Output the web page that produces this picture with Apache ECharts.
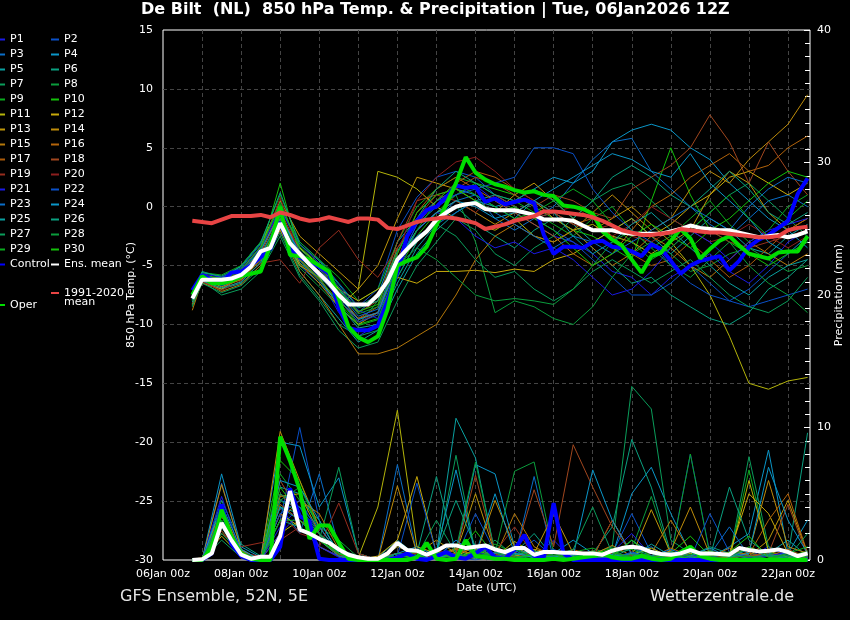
<!DOCTYPE html>
<html>
<head>
<meta charset="utf-8">
<script src="https://cdn.jsdelivr.net/npm/echarts@6/dist/echarts.min.js"></script>
<style>
  html, body { margin: 0; background: #000; }
  #chart { width: 850px; height: 620px; }
</style>
</head>
<body>
<div id="chart"></div>
<script>
// forecast steps, hours after 06Jan 00z
const hours = [18, 24, 30, 36, 42, 48, 54, 60, 66, 72, 78, 84, 90, 96, 102, 108, 114, 120, 126, 132,
  138, 144, 150, 156, 162, 168, 174, 180, 186, 192, 198, 204, 210, 216, 222, 228, 234, 240, 246, 252,
  258, 264, 270, 276, 282, 288, 294, 300, 306, 312, 318, 324, 330, 336, 342, 348, 354, 360, 366, 372,
  378, 384, 390, 396];
// members read at 12h steps
const memberHours = [18, 24, 36, 48, 60, 72, 84, 96, 108, 120, 132, 144, 156, 168, 180, 192, 204, 216,
  228, 240, 252, 264, 276, 288, 300, 312, 324, 336, 348, 360, 372, 384, 396];
const dayLabels = ["06Jan 00z", "08Jan 00z", "10Jan 00z", "12Jan 00z", "14Jan 00z", "16Jan 00z",
  "18Jan 00z", "20Jan 00z", "22Jan 00z"];

const operTemp = [-7.5, -5.9, -6.5, -6.5, -6.3, -5.9, -5.7, -5.5, -3.3, 0.0,
  -4.1, -4.2, -4.5, -5.0, -5.5, -7.8, -10.2, -11.1, -11.5, -11.0,
  -8.7, -5.0, -4.6, -4.3, -3.4, -1.6, 0.2, 2.0, 4.2, 2.9,
  2.3, 1.9, 1.7, 1.4, 1.2, 1.3, 1.0, 0.9, 0.1, 0.0,
  -0.2, -0.6, -2.1, -2.8, -3.3, -4.5, -5.6, -4.2, -3.9, -2.9,
  -1.9, -2.7, -4.4, -3.6, -2.9, -2.5, -3.3, -4.0, -4.2, -4.4,
  -3.9, -3.8, -3.8, -2.5];
const controlTemp = [-7.1, -5.8, -6.2, -6.5, -5.6, -5.5, -5.0, -4.3, -3.6, -1.3,
  -3.5, -4.3, -4.7, -5.1, -5.7, -8.6, -10.3, -10.5, -10.5, -10.1,
  -8.0, -5.5, -2.5, -1.2, -0.3, 0.0, 0.8, 1.8, 1.6, 1.7,
  0.4, 0.7, 0.2, 0.4, 0.6, 0.3, -2.4, -4.0, -3.4, -3.4,
  -3.5, -3.0, -2.9, -3.4, -3.5, -3.8, -4.2, -3.2, -3.6, -4.6,
  -5.7, -5.0, -4.6, -4.4, -4.2, -5.4, -4.6, -3.4, -2.8, -2.4,
  -1.8, -1.2, 1.1, 2.4];
const meanTemp = [-7.8, -6.2, -6.2, -6.2, -6.1, -5.8, -5.1, -3.8, -3.5, -1.4,
  -3.1, -4.0, -4.9, -5.7, -6.5, -7.5, -8.3, -8.3, -8.3, -7.5,
  -6.3, -4.5, -3.6, -2.8, -2.1, -1.1, -0.5, 0.0, 0.2, 0.3,
  -0.2, -0.3, -0.3, -0.3, -0.5, -0.7, -1.1, -1.1, -1.1, -1.2,
  -1.6, -2.0, -2.0, -2.0, -2.2, -2.3, -2.3, -2.3, -2.3, -2.1,
  -1.9, -1.6, -1.8, -1.9, -2.0, -2.0, -2.2, -2.4, -2.6, -2.5,
  -2.4, -2.6, -2.4, -2.1];
const climTemp = [-1.2, -1.3, -1.4, -1.1, -0.8, -0.8, -0.8, -0.7, -0.9, -0.5,
  -0.7, -1.0, -1.2, -1.1, -0.9, -1.1, -1.3, -1.0, -1.0, -1.1,
  -1.8, -1.9, -1.6, -1.3, -1.1, -1.0, -0.9, -1.0, -1.2, -1.4,
  -1.9, -1.7, -1.5, -1.2, -1.0, -0.8, -0.4, -0.4, -0.5, -0.6,
  -0.7, -0.9, -1.2, -1.6, -2.0, -2.2, -2.4, -2.4, -2.3, -2.2,
  -1.9, -2.0, -2.1, -2.2, -2.2, -2.3, -2.4, -2.5, -2.6, -2.6,
  -2.5, -2.0, -1.8, -1.7];

const operRain = [0, 0, 0.9, 3.8, 1.8, 0.5, 0.1, 0, 0, 9.3,
  7.5, 5.3, 1.6, 2.6, 2.6, 1.3, 0.1, 0, 0, 0,
  0, 0, 0, 0.2, 1.3, 0.1, 0, 0.1, 1.5, 0.3,
  0.2, 0.1, 0.1, 0, 0, 0, 0, 0.1, 0, 0.1,
  0.2, 0.3, 0.5, 0.2, 0.1, 0.1, 0.3, 0.1, 0, 0.1,
  0.6, 1.0, 0.3, 0.1, 0, 0, 0, 0, 0, 0,
  0, 0, 0, 0];
const controlRain = [0, 0, 0.5, 4.2, 1.2, 0.3, 0, 0, 0, 1.0,
  5.4, 3.3, 2.9, 0.1, 0, 0, 0, 0, 0, 0,
  0, 0.2, 0.5, 0.1, 0, 0.3, 0.6, 0.2, 0.1, 0.5,
  1.0, 0.2, 0.1, 0.8, 1.9, 0.3, 0.2, 4.3, 0.5, 0,
  0, 0, 0, 0, 0, 0, 0, 0, 0, 0,
  0, 0, 0, 0, 0, 0, 0, 0, 0, 0,
  0, 0, 0, 0];
const meanRain = [0, 0.05, 0.5, 2.8, 1.5, 0.4, 0.1, 0.25, 0.25, 1.8,
  5.2, 2.3, 2.0, 1.6, 1.3, 0.8, 0.4, 0.2, 0.1, 0.1,
  0.5, 1.3, 0.75, 0.7, 0.4, 0.7, 1.1, 1.1, 0.9, 1.0,
  1.1, 0.8, 0.6, 0.9, 0.9, 0.4, 0.6, 0.6, 0.55, 0.55,
  0.5, 0.5, 0.4, 0.7, 0.9, 1.0, 0.9, 0.6, 0.45, 0.4,
  0.5, 0.75, 0.5, 0.5, 0.45, 0.4, 0.9, 0.75, 0.65, 0.7,
  0.8, 0.6, 0.3, 0.5];

// perturbed members, 850 hPa temperature
const tP1 = [-7.9, -6.1, -6.5, -5.5, -3.6, -0.5, -4.5, -6.0, -9.0, -11.0, -10.0, -5.0, -1.5, 0.5, 1.0, 1.8, 0.5, -0.5, -1.5, -2.5, -3.0, -4.0, -5.5, -6.0, -7.5, -6.0, -5.0, -4.0, -5.5, -6.5, -5.0, -3.0, -2.0];
const tP2 = [-8.0, -6.2, -6.0, -5.2, -3.2, -0.2, -3.0, -4.5, -6.5, -8.5, -7.0, -2.0, 0.8, 2.5, 3.0, 2.5, 1.0, 0.0, -1.0, -2.0, -3.0, -4.5, -6.0, -7.5, -7.5, -6.5, -5.0, -6.5, -8.0, -7.0, -5.5, -4.0, -3.0];
const tP3 = [-7.6, -5.8, -6.8, -6.0, -4.5, -1.5, -5.0, -6.5, -8.0, -9.5, -9.0, -6.0, -3.0, -1.0, 0.5, 1.0, -1.0, -2.0, -1.0, 0.0, 2.0, 4.0, 5.5, 5.8, 3.0, 1.5, 0.0, -1.5, -2.5, -1.0, 0.5, 1.0, 0.0];
const tP4 = [-7.7, -6.0, -6.2, -5.0, -3.0, 0.0, -3.5, -5.0, -7.0, -9.0, -7.5, -3.0, -1.0, 0.5, 1.5, 1.0, 0.0, 0.5, 1.5, 2.5, 2.0, 3.0, 5.5, 6.5, 7.0, 6.5, 5.0, 4.0, 2.0, 0.5, -1.0, -2.0, -3.5];
const tP5 = [-8.2, -6.4, -7.0, -6.5, -5.0, -1.0, -5.5, -7.5, -9.5, -11.5, -10.5, -7.0, -4.0, -2.0, -0.5, 0.5, 1.0, 0.0, -1.0, -0.5, -1.5, -3.0, -2.0, -1.0, -2.5, -4.0, -2.5, -1.0, -2.0, -3.5, -4.0, -2.5, -1.5];
const tP6 = [-7.5, -5.5, -6.0, -5.8, -4.2, -1.8, -4.8, -6.0, -7.5, -8.5, -7.5, -4.5, -2.0, -0.5, 0.0, -1.5, -2.5, -3.5, -2.0, -1.0, -2.0, -3.5, -5.0, -6.5, -6.0, -7.5, -8.5, -9.5, -10.0, -9.0, -7.0, -6.0, -4.5];
const tP7 = [-8.5, -6.3, -7.5, -7.0, -5.5, -2.5, -6.0, -8.0, -10.5, -12.0, -11.5, -8.0, -5.0, -3.0, -1.0, -2.0, -4.0, -5.0, -3.5, -2.5, -1.0, 0.5, 1.5, 2.0, 0.5, -1.0, -2.0, -0.5, 1.0, 2.0, 0.5, -1.0, -2.5];
const tP8 = [-7.8, -6.0, -6.3, -6.2, -4.8, -2.0, -5.2, -6.8, -8.5, -10.0, -8.0, -3.5, -1.5, 0.0, 1.0, -3.0, -9.0, -8.0, -8.5, -9.5, -10.0, -8.5, -6.0, -4.0, -3.0, -4.0, -5.5, -5.0, -4.0, -3.5, -4.5, -5.5, -5.0];
const tP9 = [-7.4, -5.6, -5.8, -5.0, -3.0, 1.0, -3.0, -4.5, -6.0, -8.0, -7.0, -3.0, 0.0, 1.5, 2.5, 2.0, 1.0, 0.5, -0.5, -1.5, -2.5, -1.0, 0.0, -2.0, -3.5, -2.5, -1.0, 0.5, -1.5, -3.0, -2.0, 0.0, 1.0];
const tP10 = [-7.6, -5.9, -6.4, -5.6, -3.8, 2.0, -4.0, -5.8, -7.8, -10.0, -9.5, -5.5, -2.5, -0.5, 1.0, 2.0, 1.5, 1.0, 0.0, -1.0, -2.0, -2.5, -3.5, -4.5, 0.5, 5.0, 1.0, -2.0, -3.0, -4.0, -5.0, -4.0, -3.0];
const tP11 = [-8.3, -6.5, -7.0, -6.0, -4.5, -2.0, -5.0, -6.0, -8.5, -7.0, 3.0, 2.5, 1.5, 0.0, -1.0, -1.5, -2.0, -1.0, -2.5, -3.0, -2.0, -1.5, -2.5, -3.0, -4.0, -3.0, -5.0, -7.5, -11.0, -15.0, -15.5, -14.8, -14.5];
const tP12 = [-8.0, -6.2, -6.6, -6.0, -4.2, -1.0, -3.5, -5.0, -7.0, -8.0, -7.0, -6.0, -6.5, -5.5, -5.5, -5.4, -5.6, -5.3, -5.5, -4.5, -4.0, -3.0, -2.0, -1.0, -2.5, -1.5, 0.0, 1.0, 2.5, 3.0, 2.0, 1.0, 2.0];
const tP13 = [-7.7, -6.0, -6.1, -5.4, -3.4, 0.5, -2.5, -4.0, -5.5, -7.0, -5.0, -1.0, 2.5, 2.0, 1.5, 0.5, -0.5, 1.0, 2.0, 0.5, -1.0, -2.0, -1.0, 0.0, -1.5, -3.0, -2.0, 1.0, 3.0, 2.0, -0.5, -2.0, -1.0];
const tP14 = [-8.0, -6.1, -6.8, -6.2, -4.5, -1.2, -4.8, -6.5, -8.5, -10.0, -9.0, -5.0, -2.0, -0.5, 0.5, -0.5, -1.5, -0.5, 0.5, -1.0, -2.0, -0.5, 1.0, -0.5, -2.0, -1.0, 1.5, 3.0, 2.0, 4.0, 5.5, 7.0, 9.5];
const tP15 = [-8.8, -6.3, -7.2, -6.6, -5.0, -2.0, -5.5, -7.5, -10.0, -12.5, -12.5, -12.0, -11.0, -10.0, -7.5, -4.5, -2.5, -1.5, -2.5, -3.0, -2.0, -3.5, -5.0, -4.0, -2.5, -3.5, -5.0, -6.0, -4.5, -3.0, -4.0, -5.0, -4.0];
const tP16 = [-7.9, -6.2, -6.5, -5.8, -4.0, -0.5, -4.0, -5.5, -7.5, -9.5, -9.0, -4.5, -0.5, 1.5, 2.5, 1.5, 0.5, -0.5, -1.5, -2.5, -4.0, -5.0, -4.0, -2.0, 0.0, 1.0, 2.5, 3.5, 4.5, 3.0, 3.5, 5.0, 6.0];
const tP17 = [-8.1, -6.3, -6.9, -6.1, -4.6, -1.5, -4.5, -6.2, -8.0, -9.5, -8.5, -3.5, -1.5, 0.5, 2.0, 3.0, 2.5, 1.5, 0.5, -0.5, -1.5, -1.0, -2.5, -4.0, -5.0, -4.5, -3.0, -4.5, -6.0, -5.0, -3.5, -2.0, -1.0];
const tP18 = [-7.6, -5.8, -6.2, -5.6, -3.8, -0.3, -3.8, -5.2, -7.2, -9.0, -8.0, -3.0, 0.5, 1.0, 1.5, 2.5, 2.0, 1.0, 0.0, 1.0, 0.5, -0.5, -1.0, 1.5, 2.5, 3.5, 5.0, 7.8, 5.5, 2.0, 5.5, 3.0, 1.0];
const tP19 = [-8.2, -6.4, -7.1, -6.3, -4.8, -4.5, -6.5, -3.5, -2.0, -4.5, -6.0, -3.5, -1.0, 1.0, 0.5, -0.5, 1.0, 0.0, -1.0, -0.5, -1.5, -2.0, -1.5, -2.5, -3.0, -2.0, -1.5, -2.0, -3.0, -3.5, -3.0, -2.5, -2.0];
const tP20 = [-7.8, -6.1, -6.4, -5.7, -3.9, 0.8, -4.2, -5.8, -7.8, -9.8, -9.0, -4.0, 0.5, 2.5, 3.8, 4.2, 3.0, 1.5, 0.5, -0.5, 0.0, -1.0, -2.5, -1.5, 0.0, -1.0, -2.0, -3.0, -2.5, -1.5, -2.5, -3.5, -2.5];
const tP21 = [-7.5, -5.7, -6.0, -5.4, -3.5, -0.2, -3.2, -4.8, -6.8, -8.8, -9.5, -5.5, -2.0, -0.5, -1.0, -2.5, -3.5, -3.0, -4.0, -3.5, -4.5, -6.0, -7.5, -7.0, -5.5, -3.5, -2.0, -3.0, -4.5, -3.0, -2.0, -1.5, -1.0];
const tP22 = [-8.0, -6.2, -6.7, -6.0, -4.3, -0.7, -4.3, -5.8, -7.8, -9.8, -9.2, -5.0, -1.5, 0.0, 1.0, 1.5, 2.0, 2.5, 5.0, 5.0, 4.5, 1.5, -0.5, -2.0, -3.0, -5.0, -6.5, -7.5, -8.0, -8.5, -8.0, -7.5, -7.0];
const tP23 = [-7.9, -6.0, -6.3, -5.9, -4.1, -1.0, -3.8, -5.3, -7.3, -9.3, -8.7, -4.3, -2.5, -1.5, -0.5, 0.5, -0.5, -1.5, -2.5, -3.5, -2.5, -3.0, -4.0, -3.0, -2.0, -1.0, 0.0, -1.0, -2.0, 0.0, 1.5, 2.5, 2.0];
const tP24 = [-7.8, -6.1, -6.5, -5.6, -3.7, -0.6, -4.1, -5.6, -7.6, -9.6, -9.0, -4.7, -2.0, -0.5, 0.5, 0.0, -1.0, -0.5, 0.5, 1.5, 2.5, 3.5, 4.5, 4.0, 3.0, 2.5, 4.5, 2.0, 0.5, -1.0, -3.0, -4.0, -2.5];
const tP25 = [-8.1, -6.3, -6.9, -6.4, -4.7, -1.3, -4.6, -6.3, -8.3, -10.3, -10.0, -6.5, -3.5, -1.5, 0.0, 0.5, 0.0, -1.0, 0.5, -0.5, -2.5, -4.0, -3.0, -1.5, -0.5, -2.0, -3.5, -5.0, -6.5, -7.5, -6.0, -5.0, -4.5];
const tP26 = [-7.4, -5.6, -5.9, -5.1, -3.1, 1.2, -3.2, -4.6, -6.6, -8.6, -8.0, -3.8, -1.0, 1.5, 3.0, 2.0, 1.0, 0.5, 1.5, 0.5, -1.0, 0.5, 2.5, 3.5, 2.5, 1.0, 0.0, 1.5, 3.0, 1.5, -0.5, -1.5, -0.5];
const tP27 = [-8.4, -6.5, -7.3, -6.7, -5.2, -2.2, -5.8, -7.8, -10.0, -11.0, -10.5, -6.0, -3.0, -1.5, -2.5, -4.5, -6.0, -5.5, -7.0, -8.0, -7.0, -5.5, -4.5, -5.5, -6.5, -5.5, -4.5, -6.0, -7.5, -8.5, -9.0, -8.0, -6.0];
const tP28 = [-7.7, -5.9, -6.2, -5.5, -3.6, 0.4, -3.6, -5.1, -7.1, -9.1, -8.5, -5.0, -3.5, -4.5, -6.0, -7.5, -8.0, -7.8, -8.0, -8.3, -7.0, -5.0, -3.0, -2.0, -3.5, -5.0, -6.0, -4.5, -3.0, -5.0, -6.5, -7.5, -9.0];
const tP29 = [-8.0, -6.2, -6.6, -6.1, -4.4, -0.8, -4.4, -6.1, -8.1, -10.1, -9.6, -5.2, -2.0, 0.5, 2.0, 1.0, 0.0, -1.0, -0.5, 0.5, 1.5, 0.5, -1.5, -3.0, -4.5, -3.5, -2.0, -0.5, 1.0, -1.0, -2.5, -1.0, 0.5];
const tP30 = [-7.6, -5.8, -6.1, -5.3, -3.4, 0.2, -3.4, -4.9, -6.9, -8.9, -8.3, -4.0, -0.5, 1.0, 1.5, 0.5, -0.5, 0.0, -1.0, -2.0, -3.5, -5.0, -4.0, -2.5, -1.5, -2.5, -3.5, -2.0, -1.0, 0.5, 2.0, 3.0, 2.5];

// perturbed members, precipitation (mm)
const rP1 = [0, 0, 3.5, 0.5, 0, 2.5, 4.0, 1.0, 0.2, 0, 0, 0.5, 0, 0.3, 0.8, 0.2, 0, 0.5, 0.2, 1.5, 0, 0, 0.2, 0.5, 0, 0.3, 8.0, 0.5, 0, 0.2, 1.0, 0.3, 0];
const rP2 = [0, 0, 5.8, 0.8, 0, 3.0, 10.0, 3.0, 0.5, 0, 0, 0.2, 0, 0.5, 0.2, 0, 0.3, 0.5, 1.5, 0.2, 0, 0.3, 0.5, 3.5, 0.5, 0, 0.3, 0, 0.5, 0.3, 0, 0.2, 0.5];
const rP3 = [0, 0.1, 2.5, 0.3, 0, 4.0, 2.0, 6.5, 1.0, 0, 0, 7.2, 0.5, 0.2, 1.5, 0.3, 0.5, 0.2, 6.3, 0, 0.2, 0, 0, 0.5, 1.0, 0, 0.5, 0.2, 0, 0.5, 0.3, 0, 0.2];
const rP4 = [0, 0, 6.5, 1.0, 0.2, 8.9, 8.6, 4.0, 6.2, 0.5, 0, 0.5, 1.0, 0.3, 0.5, 7.2, 6.5, 1.0, 0.3, 0.5, 1.5, 0.5, 0.3, 5.0, 7.0, 3.5, 0.5, 0.2, 1.0, 2.0, 8.3, 0.5, 3.0];
const rP5 = [0, 0, 2.0, 0.5, 0, 5.5, 5.0, 2.5, 0.5, 0, 0.2, 1.5, 0.3, 0.5, 10.7, 7.7, 0.5, 0.5, 0.2, 0.3, 0.5, 0.3, 0.2, 1.5, 0.5, 0.3, 0.2, 0.5, 0.3, 0.2, 0.5, 1.5, 0.3];
const rP6 = [0, 0, 4.5, 1.2, 0.3, 4.0, 3.5, 2.0, 0.8, 0.3, 0, 1.0, 0.5, 6.3, 0.5, 1.0, 0.3, 0.5, 2.0, 0.2, 0.3, 0.5, 2.5, 9.1, 5.5, 0.5, 0.3, 1.0, 0.5, 0.8, 0.5, 0.3, 9.6];
const rP7 = [0, 0, 1.5, 0.2, 0, 3.5, 2.5, 1.5, 7.0, 0.5, 0, 0.3, 0.5, 0.2, 7.9, 0.5, 1.5, 0.3, 0.5, 0.3, 0.2, 0.5, 1.0, 13.1, 11.4, 1.5, 0.5, 0.3, 0.2, 7.8, 1.0, 0.5, 0.3];
const rP8 = [0, 0, 3.0, 0.8, 0, 4.5, 5.5, 2.5, 1.5, 0.2, 0, 0.5, 0.2, 0.5, 0.8, 7.4, 0.5, 6.7, 7.4, 0.5, 0.3, 0.2, 0.5, 0.8, 4.8, 0.3, 0.2, 0.5, 0.3, 0.5, 0.3, 0.2, 0.5];
const rP9 = [0, 0, 2.8, 0.6, 0, 6.5, 4.5, 3.0, 0.5, 0, 0, 0.3, 0.8, 0.1, 0.6, 0.4, 1.2, 0.5, 0.2, 0.1, 0.6, 0.9, 0.3, 0.5, 0.7, 0.2, 8.0, 0.4, 0.1, 6.8, 0.6, 0.2, 0.4];
const rP10 = [0, 0, 2.2, 0.4, 0, 7.5, 6.0, 2.0, 0.3, 0, 0, 0.2, 0.6, 0.1, 0.4, 2.2, 0.3, 0.1, 0.7, 0.2, 0.1, 0.4, 0.9, 0.8, 0.2, 0.5, 1.8, 0.3, 0.1, 1.0, 0.4, 0.2, 0.7];
const rP11 = [0, 0, 1.8, 0.3, 0, 2.0, 3.0, 1.5, 0.5, 0.2, 4.0, 11.3, 1.0, 0.5, 0.1, 0.8, 0.2, 1.4, 0.5, 0.1, 0.3, 0.6, 0.2, 0.4, 0.9, 0.2, 0.5, 0.3, 0.1, 6.0, 0.7, 0.2, 0.1];
const rP12 = [0, 0, 4.0, 0.5, 0, 3.5, 2.5, 1.0, 0.3, 0, 0.3, 1.5, 6.3, 0.5, 0.3, 1.0, 0.5, 0.3, 0.8, 0.5, 0.3, 0.2, 3.0, 0.5, 0.3, 0.5, 0.3, 0.2, 0.5, 5.0, 3.5, 0.5, 0.3];
const rP13 = [0, 0, 3.3, 0.7, 0, 4.8, 5.0, 2.0, 0.5, 0, 0, 0.5, 0.5, 1.5, 0.5, 5.0, 0.5, 0.3, 0.5, 3.5, 0.5, 0.3, 0.5, 0.3, 3.8, 0.5, 0.3, 0.5, 0.2, 0.3, 1.5, 4.5, 0.5];
const rP14 = [0, 0, 5.7, 0.8, 0, 9.7, 6.0, 2.5, 0.5, 0, 0, 5.6, 0.5, 0.2, 0.9, 0.3, 4.5, 1.0, 0.2, 0.6, 0.1, 0.4, 1.1, 0.3, 0.2, 0.7, 4.0, 0.4, 0.2, 0.6, 6.0, 1.0, 0.5];
const rP15 = [0, 0.2, 2.5, 0.5, 0, 3.0, 4.5, 3.5, 0.8, 0.2, 0, 1.0, 0.5, 0.1, 0.8, 0.4, 0.2, 3.5, 1.0, 0.3, 0.1, 0.7, 0.2, 0.1, 0.5, 3.0, 0.6, 0.2, 0.9, 0.3, 0.4, 0.1, 0.2];
const rP16 = [0, 0, 3.8, 0.6, 0.2, 5.0, 3.5, 1.5, 0.3, 0, 0.2, 0.5, 0.1, 0.7, 0.3, 0.2, 0.6, 0.1, 0.4, 0.2, 0.8, 0.3, 0.1, 0.5, 0.2, 0.9, 0.3, 0.1, 0.6, 0.4, 3.0, 5.0, 0.5];
const rP17 = [0, 0, 2.5, 0.4, 0, 4.2, 3.0, 2.0, 0.5, 0, 0, 0.3, 0.6, 0.2, 0.4, 1.0, 0.2, 0.1, 0.5, 0.3, 0.1, 0.6, 0.2, 0.4, 0.1, 0.3, 0.7, 0.2, 0.1, 0.5, 0.3, 0.8, 0.2];
const rP18 = [0, 0, 3.0, 0.5, 0, 6.0, 3.5, 1.5, 0.4, 0, 0, 0.5, 0.5, 0.3, 0.5, 6.4, 0.5, 0.3, 5.3, 1.0, 8.7, 5.5, 2.5, 0.5, 0.3, 0.5, 0.3, 0.2, 0.5, 0.3, 0.5, 4.2, 0.3];
const rP19 = [0, 0, 2.0, 1.0, 1.3, 1.5, 2.5, 1.0, 4.3, 0.5, 0, 0.3, 0.5, 0.1, 0.4, 0.2, 0.6, 2.5, 0.3, 0.1, 0.4, 0.2, 3.0, 0.5, 0.1, 0.3, 0.6, 0.2, 0.4, 0.1, 0.3, 0.5, 0.2];
const rP20 = [0, 0, 2.2, 0.5, 0.3, 3.5, 2.0, 1.5, 0.5, 0, 0, 0.5, 0.2, 0.8, 0.3, 0.1, 0.4, 0.2, 0.6, 0.3, 0.1, 0.2, 0.5, 0.3, 0.2, 0.4, 0.1, 0.3, 0.6, 0.2, 0.3, 0.1, 0.4];
const rP21 = [0, 0, 4.8, 0.5, 0, 2.0, 3.5, 1.0, 0.3, 0, 0, 0.5, 0.2, 0.4, 0.1, 0.6, 0.3, 0.1, 0.5, 0.2, 0.4, 0.1, 0.6, 2.0, 0.3, 0.1, 0.4, 0.2, 0.5, 0.1, 0.3, 0.6, 0.2];
const rP22 = [0, 0, 3.5, 0.5, 0, 3.5, 4.5, 2.0, 0.5, 0, 0, 0.3, 5.8, 0.5, 0.2, 3.5, 0.6, 0.1, 0.4, 0.8, 0.2, 0.3, 0.1, 0.6, 0.2, 0.4, 0.1, 3.5, 0.6, 0.2, 0.4, 0.1, 0.3];
const rP23 = [0, 0, 2.5, 0.5, 0, 4.5, 4.0, 2.5, 0.5, 0, 0, 0.5, 0.3, 0.1, 1.5, 0.4, 0.2, 0.7, 0.1, 0.3, 0.6, 0.2, 0.1, 0.5, 0.3, 0.8, 0.2, 0.4, 2.5, 0.3, 0.1, 0.6, 0.2];
const rP24 = [0, 0, 4.2, 0.8, 0, 6.0, 5.5, 3.0, 0.5, 0, 0, 0.5, 0.3, 0.6, 6.8, 0.4, 5.0, 0.5, 0.2, 0.7, 0.3, 6.8, 3.0, 0.4, 0.2, 0.6, 0.3, 0.9, 0.2, 0.5, 7.0, 3.0, 0.5];
const rP25 = [0, 0, 3.0, 0.5, 0, 4.0, 3.0, 1.5, 0.5, 0, 0, 0.3, 0.7, 0.2, 0.4, 0.1, 0.5, 0.9, 0.2, 0.3, 0.1, 0.6, 0.4, 0.2, 1.2, 0.3, 0.1, 0.5, 0.2, 0.8, 0.3, 0.1, 0.4];
const rP26 = [0, 0, 2.5, 0.3, 0, 3.0, 2.5, 1.5, 0.3, 0, 0, 0.5, 0.2, 0.6, 4.5, 1.0, 0.2, 0.4, 0.7, 0.1, 0.3, 0.5, 0.2, 0.9, 0.3, 0.1, 0.6, 0.2, 5.5, 1.5, 0.4, 0.2, 0.6];
const rP27 = [0, 0, 3.5, 0.6, 0, 5.0, 4.0, 2.0, 0.5, 0, 0, 0.5, 0.3, 3.0, 0.5, 0.2, 0.6, 0.1, 0.4, 0.3, 0.8, 4.0, 0.5, 0.2, 0.1, 0.6, 0.3, 0.2, 0.5, 0.1, 0.4, 0.2, 2.0];
const rP28 = [0, 0, 2.0, 0.5, 0, 4.5, 3.5, 2.0, 0.5, 0, 0, 0.3, 0.1, 0.6, 0.2, 0.4, 1.0, 0.3, 0.1, 0.5, 0.2, 0.7, 0.1, 0.4, 0.3, 0.2, 0.6, 0.1, 0.3, 0.9, 0.2, 0.4, 0.1];
const rP29 = [0, 0, 3.0, 0.5, 0, 3.0, 3.0, 1.5, 0.5, 0, 0, 0.3, 0.6, 0.2, 0.1, 0.5, 0.3, 0.8, 0.2, 0.4, 0.1, 0.3, 0.6, 0.2, 0.5, 0.1, 0.4, 0.7, 0.2, 0.3, 0.1, 0.5, 1.0];
const rP30 = [0, 0, 2.7, 0.4, 0, 5.5, 3.5, 1.5, 0.5, 0, 0, 0.3, 0.2, 0.5, 0.1, 0.7, 0.3, 0.2, 0.4, 0.1, 0.6, 0.2, 0.3, 1.5, 0.2, 0.4, 0.1, 0.3, 0.6, 1.8, 0.2, 0.1, 0.3];

const memberNames = ["P1", "P2", "P3", "P4", "P5", "P6", "P7", "P8", "P9", "P10",
  "P11", "P12", "P13", "P14", "P15", "P16", "P17", "P18", "P19", "P20",
  "P21", "P22", "P23", "P24", "P25", "P26", "P27", "P28", "P29", "P30"];
const memberTemps = [tP1, tP2, tP3, tP4, tP5, tP6, tP7, tP8, tP9, tP10, tP11, tP12, tP13, tP14, tP15,
  tP16, tP17, tP18, tP19, tP20, tP21, tP22, tP23, tP24, tP25, tP26, tP27, tP28, tP29, tP30];
const memberRains = [rP1, rP2, rP3, rP4, rP5, rP6, rP7, rP8, rP9, rP10, rP11, rP12, rP13, rP14, rP15,
  rP16, rP17, rP18, rP19, rP20, rP21, rP22, rP23, rP24, rP25, rP26, rP27, rP28, rP29, rP30];

// styles
const font = "DejaVu Sans, sans-serif";
const palette = ["#1a1ae6", "#0a50c8", "#0a6ec8", "#0a96c8", "#0aa0a0", "#0aa080", "#0a9c5a",
  "#0a9c3c", "#0aaa1e", "#14c00a", "#b4b40a", "#c8aa0a", "#be960a", "#be8c0a", "#b4780a",
  "#b4640a", "#aa5a0a", "#a0461e", "#962d1e", "#8c1e1e"];
const gridLine = { color: "#444", type: [4, 3], width: 1 };
const white = "#ffffff";

const chart = echarts.init(document.getElementById("chart"));

const pairs = (xs, ys) => xs.map((x, i) => [x, ys[i]]);

function line(name, data, color, width, yAxisIndex) {
  return {
    type: "line",
    name,
    data,
    yAxisIndex,
    symbol: "none",
    showSymbol: false,
    silent: true,
    animation: false,
    lineStyle: { width, color },
    itemStyle: { color }
  };
}

const series = [];
memberNames.forEach((name, i) => {
  const color = palette[i % palette.length];
  series.push(line(name, pairs(memberHours, memberTemps[i]), color, 1, 0));
  series.push(line(name, pairs(memberHours, memberRains[i]), color, 1, 1));
});
series.push(line("Control", pairs(hours, controlTemp), "#0000ff", 4, 0));
series.push(line("Control", pairs(hours, controlRain), "#0000ff", 4, 1));
series.push(line("Oper", pairs(hours, operTemp), "#00dd00", 4, 0));
series.push(line("Oper", pairs(hours, operRain), "#00dd00", 4, 1));
series.push(line("Ens. mean", pairs(hours, meanTemp), white, 4, 0));
series.push(line("Ens. mean", pairs(hours, meanRain), white, 4, 1));
series.push(line("1991-2020 mean", pairs(hours, climTemp), "#e84444", 4, 0));

const legendBase = {
  orient: "vertical",
  padding: 0,
  itemGap: 0,
  itemWidth: 8,
  itemHeight: 2,
  icon: "rect",
  selectedMode: false,
  itemStyle: { borderWidth: 0 },
  textStyle: { color: white, fontFamily: font, fontSize: 11, lineHeight: 15 }
};

const leftCol = memberNames.filter((n, i) => i % 2 === 0).concat(["Control"]);
const rightCol = memberNames.filter((n, i) => i % 2 === 1).concat(["Ens. mean"]);

const axisText = { color: white, fontFamily: font, fontSize: 11 };

chart.setOption({
  backgroundColor: "#000",
  animation: false,
  textStyle: { fontFamily: font },
  title: {
    text: "De Bilt  (NL)  850 hPa Temp. & Precipitation | Tue, 06Jan2026 12Z",
    left: 141,
    top: 2,
    padding: 0,
    textStyle: { color: white, fontFamily: font, fontSize: 16, fontWeight: "bold" }
  },
  legend: [
    Object.assign({}, legendBase, { left: -3, top: 32, data: leftCol }),
    Object.assign({}, legendBase, { left: 51, top: 32, data: rightCol }),
    Object.assign({}, legendBase, { left: 51, top: 285.5, data: ["1991-2020 mean"], formatter: () => "1991-2020" }),
    Object.assign({}, legendBase, { left: -3, top: 297.5, data: ["Oper"] })
  ],
  graphic: [
    { type: "text", left: 64, top: 297, silent: true,
      style: { text: "mean", fill: white, font: "11px DejaVu Sans" } },
    { type: "text", left: 120, top: 589, silent: true,
      style: { text: "GFS Ensemble, 52N, 5E", fill: "#e6e6e6", font: "16px DejaVu Sans" } },
    { type: "text", left: 650, top: 589, silent: true,
      style: { text: "Wetterzentrale.de", fill: "#e6e6e6", font: "16px DejaVu Sans" } }
  ],
  grid: {
    left: 163, right: 40, top: 30, bottom: 60,
    show: true, borderColor: white, borderWidth: 1,
    outerBoundsMode: "none"
  },
  xAxis: {
    type: "value",
    min: 0,
    max: 397.5,
    interval: 24,
    name: "Date (UTC)",
    nameLocation: "middle",
    nameGap: 23,
    nameMoveOverlap: false,
    nameTextStyle: axisText,
    axisLine: { show: false },
    axisTick: { show: false },
    axisLabel: Object.assign({}, axisText, {
      margin: 9,
      showMinLabel: true,
      showMaxLabel: false,
      formatter: (h) => (h % 48 === 0 && dayLabels[h / 48]) ? dayLabels[h / 48] : ""
    }),
    splitLine: { show: true, showMinLine: false, showMaxLine: false, lineStyle: gridLine }
  },
  yAxis: [
    {
      type: "value",
      position: "left",
      min: -30,
      max: 15,
      interval: 5,
      name: "850 hPa Temp. (°C)",
      nameLocation: "middle",
      nameRotate: 90,
      nameGap: 26,
      nameMoveOverlap: false,
      nameTextStyle: axisText,
      axisLine: { show: false },
      axisTick: { show: false },
      axisLabel: Object.assign({}, axisText, { margin: 10 }),
      splitLine: { show: true, showMinLine: false, showMaxLine: false, lineStyle: gridLine }
    },
    {
      type: "value",
      position: "right",
      min: 0,
      max: 40,
      interval: 10,
      name: "Precipitation (mm)",
      nameLocation: "middle",
      nameRotate: 90,
      nameGap: 24,
      nameMoveOverlap: false,
      nameTextStyle: axisText,
      axisLine: { show: false },
      axisTick: { show: true, inside: true, length: 6, lineStyle: { color: white } },
      minorTick: { show: true, splitNumber: 10, length: 5, lineStyle: { color: white } },
      axisLabel: Object.assign({}, axisText, { margin: 7 }),
      splitLine: { show: false }
    }
  ],
  series
});
</script>
</body>
</html>
